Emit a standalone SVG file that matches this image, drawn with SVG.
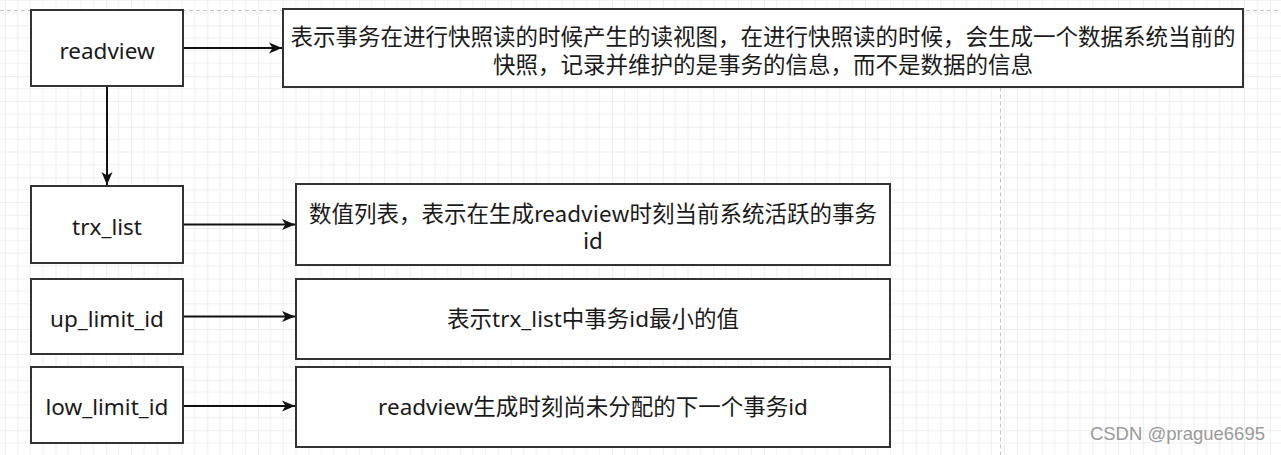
<svg xmlns="http://www.w3.org/2000/svg" width="1281" height="455" viewBox="0 0 1281 455">
<style>
.box{fill:#fff;stroke:#333;stroke-width:2}
.lbl{font-family:"Noto Sans","Noto Sans CJK SC",sans-serif;font-size:22.5px;fill:#1a1a1a;text-anchor:middle}
.ml{font-family:"Noto Sans CJK SC","Noto Sans",sans-serif}
.con{stroke:#111;stroke-width:2;fill:none}
.page{stroke:#c4c4c4;stroke-width:1;stroke-dasharray:4 3;fill:none}
</style>
<defs>
<pattern id="grid" patternUnits="userSpaceOnUse" x="4.9" y="25.5" width="50.6" height="50.6">
<path d="M12.65 0V50.6M25.3 0V50.6M37.95 0V50.6M0 12.65H50.6M0 25.3H50.6M0 37.95H50.6" stroke="#efefef" stroke-width="1" fill="none"/>
<path d="M0 0V50.6M0 0H50.6" stroke="#dedede" stroke-width="1" fill="none"/>
</pattern>
<marker id="arr" markerUnits="userSpaceOnUse" markerWidth="14" markerHeight="12" refX="13" refY="6" orient="auto">
<path d="M0,0.5 L13,6 L0,11.5 L3.5,6 Z" fill="#111"/>
</marker>
</defs>
<rect width="1281" height="455" fill="#fff"/>
<rect width="1281" height="455" fill="url(#grid)"/>
<path class="page" d="M0 10.5H1281M1000.5 10.5V455"/>
<g id="connectors">
<path class="con" d="M183 48H282" marker-end="url(#arr)"/>
<path class="con" d="M107 86V185" marker-end="url(#arr)"/>
<path class="con" d="M183 224.5H295" marker-end="url(#arr)"/>
<path class="con" d="M183 316.5H295" marker-end="url(#arr)"/>
<path class="con" d="M183 406H295" marker-end="url(#arr)"/>
</g>
<g id="readview">
<rect class="box" x="31" y="10" width="152" height="76"/>
<text class="lbl" x="107" y="58.5">readview</text>
</g>
<g id="readview-desc">
<rect class="box" x="283" y="9" width="960" height="78"/>
<text class="lbl ml"><tspan x="763" y="45">表示事务在进行快照读的时候产生的读视图，在进行快照读的时候，会生成一个数据系统当前的</tspan><tspan x="763" y="72.5">快照，记录并维护的是事务的信息，而不是数据的信息</tspan></text>
</g>
<g id="trx_list">
<rect class="box" x="31" y="186" width="152" height="77"/>
<text class="lbl" x="107" y="235">trx_list</text>
</g>
<g id="trx_list-desc">
<rect class="box" x="296" y="184" width="594" height="81"/>
<text class="lbl ml"><tspan x="593" y="221.5">数值列表，表示在生成readview时刻当前系统活跃的事务</tspan><tspan x="593" y="248.5">id</tspan></text>
</g>
<g id="up_limit_id">
<rect class="box" x="31" y="279" width="152" height="75"/>
<text class="lbl" x="107" y="326.5">up_limit_id</text>
</g>
<g id="up_limit_id-desc">
<rect class="box" x="296" y="279" width="594" height="80"/>
<text class="lbl" x="593" y="327">表示trx_list中事务id最小的值</text>
</g>
<g id="low_limit_id">
<rect class="box" x="31" y="367" width="152" height="76"/>
<text class="lbl" x="107" y="415">low_limit_id</text>
</g>
<g id="low_limit_id-desc">
<rect class="box" x="296" y="367" width="594" height="80"/>
<text class="lbl" x="593" y="415">readview生成时刻尚未分配的下一个事务id</text>
</g>
<text x="1265" y="440" font-family="Liberation Sans, Arial, sans-serif" font-size="18.5" fill="#9a9a9a" text-anchor="end">CSDN @prague6695</text>
</svg>
